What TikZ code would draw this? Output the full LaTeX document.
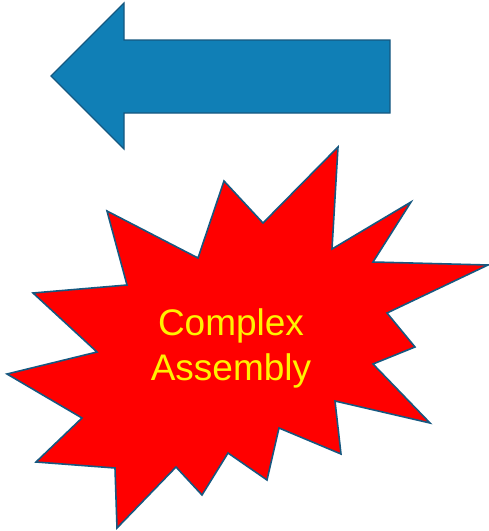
\documentclass[tikz,border=0pt]{standalone}
\usepackage{fontspec}
\setmainfont{Liberation Sans}
\usepackage{tikz}
\usetikzlibrary{positioning}
\definecolor{arrowblue}{RGB}{16,127,182}
\definecolor{edgeblue}{RGB}{22,88,128}

\begin{document}
\begin{tikzpicture}[x=1pt,y=-1pt,
  blockarrow/.style={fill=arrowblue,draw=edgeblue,line width=1.2pt,line join=miter},
  burst/.style={fill=red,draw=edgeblue,line width=1.6pt,line join=miter},
  burstlabel/.style={text=yellow,font=\fontsize{37}{45}\selectfont,align=center}]
\useasboundingbox (0,0) rectangle (489,531);
\draw[blockarrow] (51,76) -- (124,3) -- (124,40) -- (390,40) -- (390,113) -- (124,113) -- (124,149) -- cycle;
\draw[burst] (33,293) -- (127,285) -- (107,211) -- (198,258) -- (224,181) -- (263,223)
  -- (338,147) -- (332,249) -- (411,202) -- (373,262) -- (488,265) -- (387,313)
  -- (415,347) -- (373,364) -- (430,423) -- (335,401) -- (341,454) -- (279,428)
  -- (267,480) -- (228,453) -- (202,495) -- (176,467) -- (117,528) -- (115,468)
  -- (36,462) -- (82,418) -- (7,374) -- (97,352) -- cycle;
\node[burstlabel] (label) at (231,348) {Complex\\Assembly};
\end{tikzpicture}
\end{document}
